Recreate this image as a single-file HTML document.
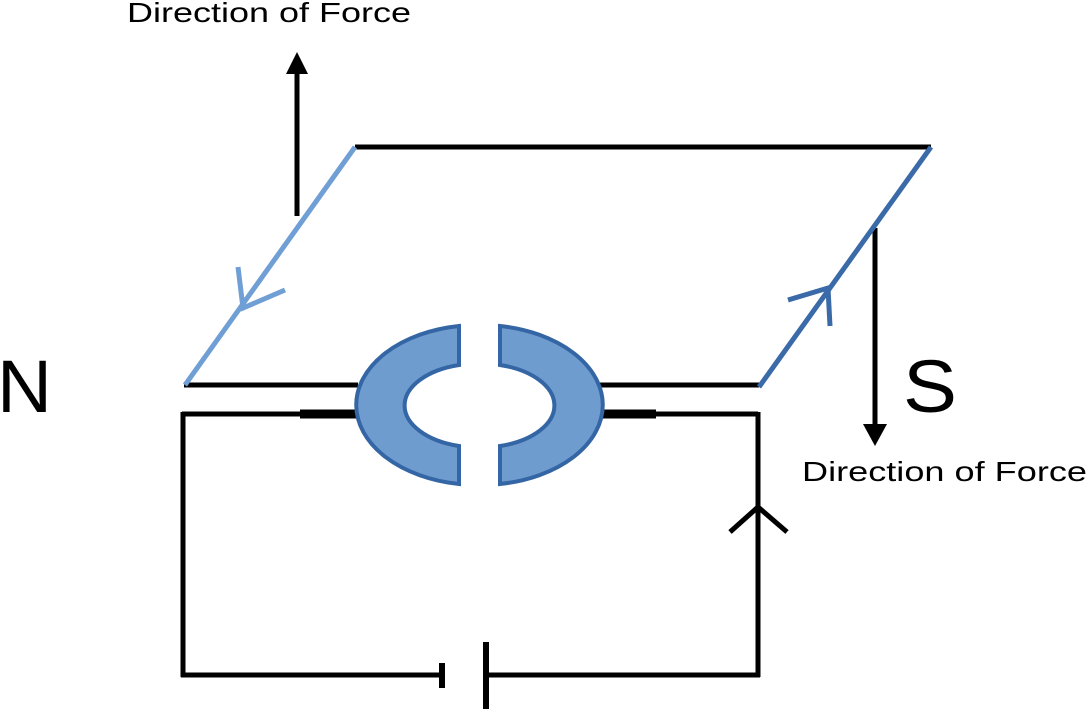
<!DOCTYPE html>
<html><head><style>
body{margin:0;background:#fff}
svg{display:block}
text{font-family:"Liberation Sans",sans-serif;fill:#000}
</style></head><body>
<svg width="1087" height="709" viewBox="0 0 1087 709">
<g stroke="#000" stroke-width="5" fill="none">
<line x1="355" y1="147" x2="931" y2="147"/>
<line x1="184" y1="385" x2="358" y2="385"/>
<line x1="598" y1="385" x2="759" y2="385"/>
<line x1="182" y1="414" x2="358" y2="414"/>
<line x1="598" y1="414" x2="758" y2="414"/>
<line x1="183" y1="412" x2="183" y2="677"/>
<line x1="758" y1="412" x2="758" y2="677"/>
<line x1="181" y1="675" x2="442" y2="675"/>
<line x1="486" y1="675" x2="760" y2="675"/>
<line x1="442" y1="663" x2="442" y2="688" stroke-width="6"/>
<line x1="486" y1="642" x2="486" y2="709" stroke-width="6"/>
<line x1="300" y1="414" x2="356" y2="414" stroke-width="9"/>
<line x1="600" y1="414" x2="656" y2="414" stroke-width="9"/>
<line x1="297" y1="216" x2="297" y2="70"/>
<line x1="875" y1="228" x2="875" y2="430"/>
<polyline points="730,532 758,507 787,532"/>
</g>
<polygon points="297,52 286,74 308,74" fill="#000"/>
<polygon points="875,446 863,424 887,424" fill="#000"/>
<g stroke-width="5" fill="none">
<line x1="355" y1="147" x2="185" y2="385" stroke="#6f9fd4"/>
<polyline points="238,267 243,308 285,290" stroke="#6f9fd4"/>
<line x1="931" y1="147" x2="759" y2="387" stroke="#3a6aa8"/>
<polyline points="788,300 828,288 830,326" stroke="#3a6aa8"/>
</g>
<g fill="#6f9ccf" stroke="#3465a4" stroke-width="4">
<path d="M459,326 A122,80 0 0 0 459,484 L459,446 A74,42 0 0 1 459,365 Z"/>
<path d="M500,326 A122,80 0 0 1 500,484 L500,446 A74,42 0 0 0 500,365 Z"/>
</g>
<text x="127" y="22" font-size="28" textLength="284" lengthAdjust="spacingAndGlyphs">Direction of Force</text>
<text x="802" y="481" font-size="28" textLength="285" lengthAdjust="spacingAndGlyphs">Direction of Force</text>
<text x="-3" y="412" font-size="74" textLength="55" lengthAdjust="spacingAndGlyphs">N</text>
<text x="903" y="412" font-size="74" textLength="54" lengthAdjust="spacingAndGlyphs">S</text>
</svg>
</body></html>
